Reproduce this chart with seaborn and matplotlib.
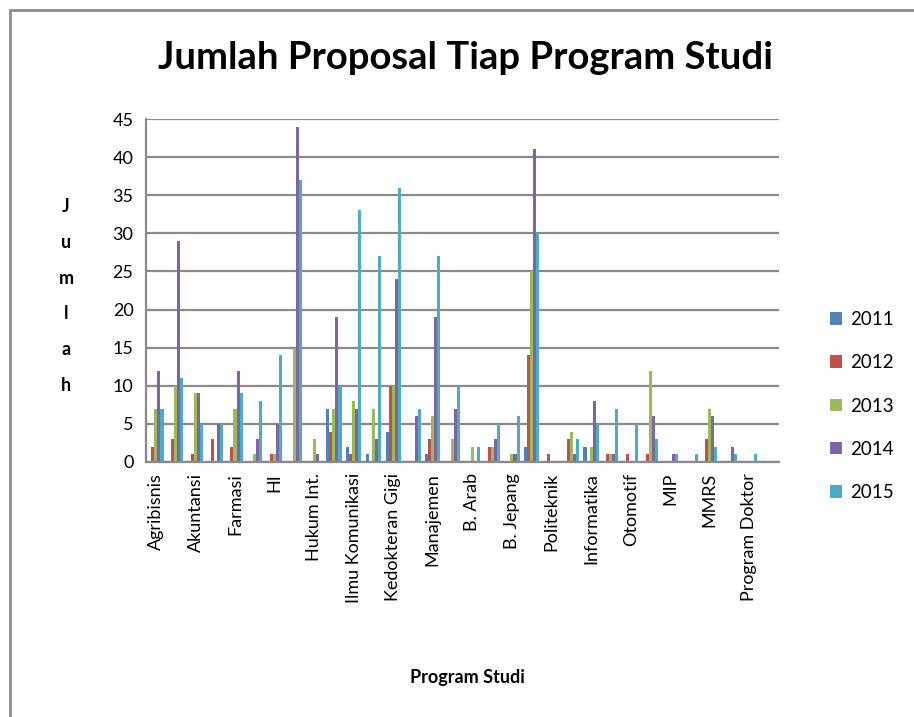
import matplotlib
matplotlib.use("Agg")
import matplotlib.pyplot as plt
import seaborn as sns
import pandas as pd
from matplotlib.patches import Rectangle
from matplotlib.ticker import MultipleLocator, FixedLocator

# ---- data ----
categories = [
    "Agribisnis", "Agroteknologi", "Akuntansi", "Ekonomi Pembangunan",
    "Farmasi", "Hukum", "HI", "Ilmu Pemerintahan",
    "Hukum Int.", "Ilmu Keperawatan", "Ilmu Komunikasi", "Kedokteran Umum",
    "Kedokteran Gigi", "Magister Hukum", "Manajemen", "Pend. B. Inggris",
    "B. Arab", "B. Inggris", "B. Jepang", "Pend. Agama Islam",
    "Politeknik", "Teknik Elektro", "Informatika", "Teknik Mesin",
    "Otomotif", "Teknik Sipil", "MIP", "MM",
    "MMRS", "Magister Akuntansi", "Program Doktor", "Lainnya",
]
shown_labels = [
    "Agribisnis", "Akuntansi", "Farmasi", "HI", "Hukum Int.",
    "Ilmu Komunikasi", "Kedokteran Gigi", "Manajemen", "B. Arab",
    "B. Jepang", "Politeknik", "Informatika", "Otomotif", "MIP",
    "MMRS", "Program Doktor",
]
years = ["2011", "2012", "2013", "2014", "2015"]
v2011 = [0, 0, 0, 0, 0, 0, 0, 0, 0, 7, 2, 1, 4, 0, 1, 0,
         0, 0, 0, 2, 0, 0, 2, 0, 0, 0, 0, 0, 0, 0, 0, 0]
v2012 = [2, 3, 1, 3, 2, 0, 1, 0, 0, 4, 1, 0, 10, 0, 3, 0,
         0, 2, 0, 14, 1, 3, 0, 1, 1, 1, 0, 0, 3, 0, 0, 0]
v2013 = [7, 10, 9, 0, 7, 1, 1, 15, 3, 7, 8, 7, 10, 0, 6, 3,
         2, 2, 1, 25, 0, 4, 2, 1, 0, 12, 0, 0, 7, 0, 0, 0]
v2014 = [12, 29, 9, 5, 12, 3, 5, 44, 1, 19, 7, 3, 24, 6, 19, 7,
         0, 3, 1, 41, 0, 1, 8, 1, 0, 6, 1, 0, 6, 2, 0, 0]
v2015 = [7, 11, 5, 5, 9, 8, 14, 37, 0, 10, 33, 27, 36, 7, 27, 10,
         2, 5, 6, 30, 0, 3, 5, 7, 5, 3, 1, 1, 2, 1, 1, 0]
colors = ["#4F81BD", "#C0504D", "#9BBB59", "#8064A2", "#4BACC6"]

series = [v2011, v2012, v2013, v2014, v2015]
rows = []
for yr, vals in zip(years, series):
    for c, v in zip(categories, vals):
        rows.append({"Program Studi": c, "Tahun": yr, "Jumlah": v})
df = pd.DataFrame(rows)

# ---- figure ----
sns.set_style("white")
FONT = ["Lato", "DejaVu Sans"]
plt.rcParams["font.family"] = FONT
plt.rcParams["text.color"] = "black"
plt.rcParams["xtick.color"] = "black"
plt.rcParams["ytick.color"] = "black"

fig = plt.figure(figsize=(9.14, 7.17), dpi=100)
ax = fig.add_axes([146 / 914, 1 - 462 / 717, (779 - 146) / 914, (462 - 119) / 717])

sns.barplot(data=df, x="Program Studi", y="Jumlah", hue="Tahun",
            order=categories, hue_order=years, palette=colors,
            width=0.77, gap=0, saturation=1, linewidth=0, ax=ax, legend=True)

grid_c = "#8a8a8a"
ax.set_ylim(0, 45)
ax.set_xlim(-0.5, len(categories) - 0.5)
ax.yaxis.set_major_locator(MultipleLocator(5))
ax.grid(axis="y", color=grid_c, linewidth=1.6)
ax.set_axisbelow(True)
for s in ["top", "right"]:
    ax.spines[s].set_visible(False)
for s in ["left", "bottom"]:
    ax.spines[s].set_color(grid_c)
    ax.spines[s].set_linewidth(1.6)

# x ticks: labels on every other category, tick marks at category boundaries
label_pos = [categories.index(n) for n in shown_labels]
ax.xaxis.set_major_locator(FixedLocator(label_pos))
ax.set_xticklabels(shown_labels, rotation=90, fontsize=13, va="top", ha="center",
                   color="black")
ax.xaxis.set_minor_locator(FixedLocator([i - 0.5 for i in range(len(categories) + 1)]))
ax.tick_params(axis="x", which="major", length=0, pad=8)
ax.tick_params(axis="x", which="minor", length=5, width=1.4, color=grid_c)
ax.tick_params(axis="y", which="major", length=5, width=1.4, color=grid_c,
               labelsize=13, pad=4, labelcolor="black")
ax.set_xlabel("")
ax.set_ylabel("")

# legend
handles, labels = ax.get_legend_handles_labels()
ax.legend(handles, labels, loc="upper left", bbox_to_anchor=(830 / 914, 1 - 311 / 717),
          bbox_transform=fig.transFigure, frameon=False, fontsize=13.5,
          handlelength=0.65, handleheight=0.65, handletextpad=0.4,
          labelspacing=1.4, borderaxespad=0, borderpad=0, labelcolor="black")

# titles
fig.text(465 / 914, 1 - 58 / 717, "Jumlah Proposal Tiap Program Studi",
         ha="center", va="center", fontsize=27.5, fontweight="bold", color="black")
fig.text(467 / 914, 1 - 678 / 717, "Program Studi", ha="center", va="center",
         fontsize=13, fontweight="bold", color="black")
fig.text(66 / 914, 1 - 296 / 717, "J\nu\nm\nl\na\nh", ha="center", va="center",
         fontsize=13, fontweight="bold", linespacing=2.35, color="black")

# outer chart border
fig.patches.append(Rectangle((10 / 914, -0.1), 1.2, 1 - 10 / 717 + 0.1,
                             transform=fig.transFigure, fill=False,
                             edgecolor="#8c8c8c", linewidth=2))

fig.savefig("out.png", dpi=100, facecolor="white")
